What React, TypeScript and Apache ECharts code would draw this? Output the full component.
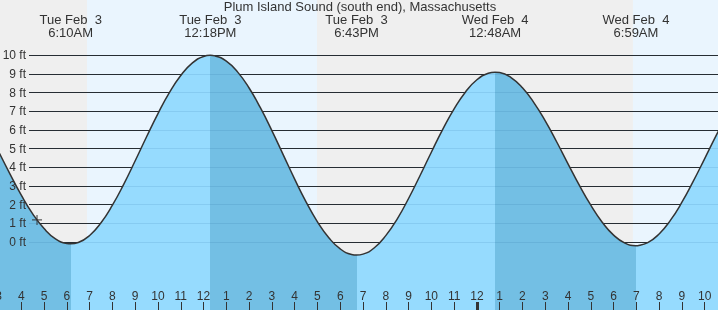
import React, { useEffect, useRef } from "react";
import * as echarts from "echarts";

// ---------- data ----------
const chartTitle = "Plum Island Sound (south end), Massachusetts";

// readings, hours counted from Tue Feb 3, 00:00
const readingTimes = [3, 3.5, 4, 4.5, 5, 5.5, 6, 6.5, 7, 7.5, 8, 8.5, 9, 9.5, 10, 10.5, 11, 11.5, 12, 12.5, 13, 13.5, 14, 14.5, 15, 15.5, 16, 16.5, 17, 17.5, 18, 18.5, 19, 19.5, 20, 20.5, 21, 21.5, 22, 22.5, 23, 23.5, 24, 24.5, 25, 25.5, 26, 26.5, 27, 27.5, 28, 28.5, 29, 29.5, 30, 30.5, 31, 31.5, 32, 32.5, 33, 33.5, 34, 34.5, 35];
const readingHeights = [4.85, 3.65, 2.51, 1.51, 0.72, 0.17, -0.08, -0.03, 0.35, 1.03, 1.97, 3.1, 4.35, 5.64, 6.88, 8.0, 8.92, 9.58, 9.94, 9.97, 9.69, 9.1, 8.25, 7.18, 5.97, 4.67, 3.37, 2.15, 1.08, 0.23, -0.37, -0.67, -0.65, -0.31, 0.34, 1.23, 2.33, 3.55, 4.81, 6.03, 7.13, 8.04, 8.69, 9.04, 9.08, 8.81, 8.26, 7.47, 6.49, 5.37, 4.19, 3.03, 1.97, 1.06, 0.37, -0.06, -0.2, -0.03, 0.43, 1.17, 2.13, 3.26, 4.47, 5.7, 6.87];

const hourTicks = [3, 35];

const tideTimes = [6.167, 12.3, 18.717, 24.8, 30.983];
const tideHeights = [-0.1, 10.0, -0.7, 9.1, -0.2];
const tideKinds = ["L", "H", "L", "H", "L"];
const tideDays = ["Tue Feb  3", "Tue Feb  3", "Tue Feb  3", "Wed Feb  4", "Wed Feb  4"];
const tideClock = ["6:10AM", "12:18PM", "6:43PM", "12:48AM", "6:59AM"];

const bandEdges = [3, 6.883, 16.983, 30.85, 35];
const bandKinds = ["night", "day", "night", "day"];

const midnights = [24];
const currentTime = [4.69];
const currentHeight = [1.18];

const ftTicks = [0, 10];

// ---------- styles ----------
const FONT = "'Liberation Sans', Arial, sans-serif";
const TEXT = "#333";
const DAY_BG = "#eaf5fe";
const NIGHT_BG = "#efefef";
const RISING = "#96dbfe";
const FALLING = "#73bfe4";

const Y10 = 55.33;
const Y0 = 242;
const H = 310;
const PX_PER_FT = (Y0 - Y10) / 10;

export default function App() {
  const ref = useRef<HTMLDivElement>(null);

  useEffect(() => {
    if (!ref.current) return;
    const chart = echarts.init(ref.current, null, { renderer: "svg" });

    const pts: [number, number][] = readingTimes.map((h, i) => [h, readingHeights[i]] as [number, number]);
    tideTimes.forEach((t, i) => pts.push([t, tideHeights[i]]));
    pts.sort((a, b) => a[0] - b[0]);

    const pieces: any[] = [];
    tideTimes.forEach((t, i) => {
      const color = tideKinds[i] === "H" ? RISING : FALLING;
      if (i === 0) pieces.push({ lt: t, color });
      else pieces.push({ gte: tideTimes[i - 1], lt: t, color });
    });
    pieces.push({ gte: tideTimes[tideTimes.length - 1], color: tideKinds[tideKinds.length - 1] === "L" ? RISING : FALLING });

    const bands = bandKinds.map((k, i) => [
      { xAxis: bandEdges[i], itemStyle: { color: k === "day" ? DAY_BG : NIGHT_BG } },
      { xAxis: bandEdges[i + 1] },
    ]);

    const xMin = hourTicks[0];
    const xMax = hourTicks[1];

    chart.setOption({
      animation: false,
      textStyle: { fontFamily: FONT },
      grid: [
        { left: -1.48, width: 728.96, top: 0, height: H, outerBoundsMode: "none", containLabel: false },
        { left: 29, width: 718 - 29, top: Y10, height: Y0 - Y10, outerBoundsMode: "none", containLabel: false },
      ],
      xAxis: [
        {
          gridIndex: 0, type: "value", min: xMin, max: xMax, interval: 1, position: "bottom", z: 6,
          axisLine: { show: false, onZero: false },
          axisTick: { show: true, inside: true, length: 8, lineStyle: { color: TEXT, width: 1 } },
          axisLabel: {
            inside: true, margin: 8, color: TEXT, fontSize: 12, fontFamily: FONT, hideOverlap: false,
            showMaxLabel: false,
            formatter: (v: number) => String(v % 12 === 0 ? 12 : v % 12),
          },
          splitLine: { show: false },
        },
        {
          gridIndex: 0, type: "value", min: xMin, max: xMax, position: "bottom", offset: 0, z: 6,
          axisLine: { show: false, onZero: false },
          axisTick: { show: true, inside: true, length: 8, customValues: midnights, lineStyle: { color: TEXT, width: 3 } },
          axisLabel: { show: false },
          splitLine: { show: false },
        },
        { gridIndex: 1, type: "value", min: xMin, max: xMax, show: false },
      ],
      yAxis: [
        {
          gridIndex: 0, type: "value", min: -(H - Y0) / PX_PER_FT, max: Y0 / PX_PER_FT, show: false,
        },
        {
          gridIndex: 1, type: "value", position: "left", min: ftTicks[0], max: ftTicks[1], interval: 1, z: 2,
          axisLine: { show: false, onZero: false }, axisTick: { show: false }, axisLabel: { show: false },
          splitLine: { show: true, lineStyle: { color: "#2b2b2b", width: 1 } },
        },
        {
          gridIndex: 1, type: "value", position: "left", offset: 0, min: ftTicks[0], max: ftTicks[1], interval: 1, z: 4,
          axisLine: { show: false, onZero: false }, axisTick: { show: false },
          axisLabel: { show: true, margin: 3, color: TEXT, fontSize: 12, fontFamily: FONT, formatter: (v: number) => v + " ft" },
          splitLine: { show: true, lineStyle: { color: "rgba(0,70,130,0.1)", width: 1 } },
        },
      ],
      visualMap: {
        type: "piecewise", show: false, dimension: 0, seriesIndex: 0, pieces,
      },
      series: [
        {
          type: "line", xAxisIndex: 0, yAxisIndex: 0, data: pts, smooth: true, showSymbol: false, z: 3,
          lineStyle: { width: 0, opacity: 0 },
          areaStyle: { opacity: 1, origin: "start" },
          silent: true,
          markArea: { silent: true, z: 1, label: { show: false }, data: bands },
        },
        {
          type: "line", xAxisIndex: 0, yAxisIndex: 0, data: pts, smooth: true, showSymbol: false, z: 5,
          lineStyle: { color: "#333", width: 1.5 }, silent: true,
        },
        {
          type: "scatter", xAxisIndex: 0, yAxisIndex: 0, z: 6,
          data: currentTime.map((t, i) => [t, currentHeight[i]]),
          symbol: "path://M0,4.4H10V5.6H0ZM4.4,0H5.6V10H4.4Z", symbolSize: 10,
          itemStyle: { color: "#333" }, silent: true,
        },
      ],
    });

    const graphics: any[] = [
      {
        type: "text", x: 360, y: 6.8, z: 10,
        style: { text: chartTitle, fill: TEXT, font: `13px ${FONT}`, textAlign: "center", textVerticalAlign: "middle" },
      },
    ];
    tideTimes.forEach((t, i) => {
      const px = chart.convertToPixel({ xAxisIndex: 0 } as any, t) as number;
      graphics.push({
        type: "text", x: px, y: 26, z: 10,
        style: {
          text: tideDays[i] + "\n" + tideClock[i], fill: TEXT, font: `13px ${FONT}`,
          lineHeight: 13, textAlign: "center", textVerticalAlign: "middle",
        },
      });
    });
    chart.setOption({ graphic: graphics });

    return () => chart.dispose();
  }, []);

  return <div ref={ref} style={{ position: "fixed", left: 0, top: 0, width: 718, height: 310 }} />;
}
